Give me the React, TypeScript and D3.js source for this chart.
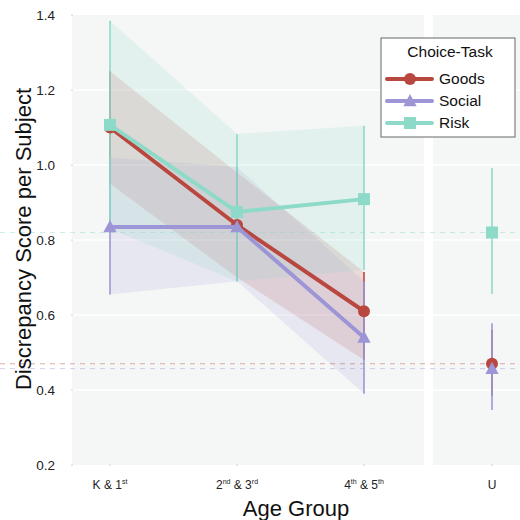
import React from 'react';
import * as d3 from 'd3';

const groups = ['K & 1st', '2nd & 3rd', '4th & 5th'];
const groupSup = [['K & 1', 'st'], ['2', 'nd', ' & 3', 'rd'], ['4', 'th', ' & 5', 'th']];
const seriesNames = ['Goods', 'Social', 'Risk'];
const colors = ['#b8473f', '#9d96d6', '#8edac9'];

// mean, ci low, ci high per age group
const goodsMean = [1.10, 0.84, 0.61];
const goodsLo = [0.95, 0.70, 0.48];
const goodsHi = [1.25, 0.98, 0.715];
const socialMean = [0.835, 0.835, 0.54];
const socialLo = [0.655, 0.69, 0.39];
const socialHi = [1.02, 0.995, 0.69];
const riskMean = [1.107, 0.875, 0.909];
const riskLo = [0.83, 0.69, 0.72];
const riskHi = [1.385, 1.083, 1.105];

// adults (U)
const uMean = [0.47, 0.457, 0.82];
const uLo = [0.385, 0.347, 0.656];
const uHi = [0.56, 0.578, 0.992];

const yTicks = [0.2, 0.4, 0.6, 0.8, 1.0, 1.2, 1.4];

const font = '"Liberation Sans", Arial, Helvetica, sans-serif';

const Marker: React.FC<{ kind: number; x: number; y: number; color: string }> = ({ kind, x, y, color }) => {
  if (kind === 0) return <circle cx={x} cy={y} r={6} fill={color} />;
  if (kind === 1) {
    const s = 7;
    return <path d={`M${x},${y - s} L${x + s * 0.95},${y + s * 0.75} L${x - s * 0.95},${y + s * 0.75} Z`} fill={color} />;
  }
  return <rect x={x - 6} y={y - 6} width={12} height={12} fill={color} />;
};

export default function App() {
  const means = [goodsMean, socialMean, riskMean];
  const los = [goodsLo, socialLo, riskLo];
  const his = [goodsHi, socialHi, riskHi];

  const y = d3.scaleLinear().domain([0.2, 1.4]).range([465, 15]);
  const x = d3.scalePoint<string>().domain(groups).range([110, 364]);
  const xU = d3.scalePoint<string>().domain(['U']).range([492, 492]);

  const leftPanel = { x0: 72, x1: 424 };
  const rightPanel = { x0: 433, x1: 522 };

  const lineGen = d3.line<number>().x((_, i) => x(groups[i]) as number).y(v => y(v));
  const areaGen = (lo: number[], hi: number[]) =>
    d3.area<number>()
      .x((_, i) => x(groups[i]) as number)
      .y0((_, i) => y(lo[i]))
      .y1((_, i) => y(hi[i]))(lo) as string;

  const bandOpacity = [0.16, 0.16, 0.18];

  return (
    <svg width={520} height={520} style={{ position: 'absolute', left: 0, top: 0 }} fontFamily={font}>
      {/* panels */}
      <rect x={leftPanel.x0} y={15} width={leftPanel.x1 - leftPanel.x0} height={450} fill="#f5f7f6" />
      <rect x={rightPanel.x0} y={15} width={rightPanel.x1 - rightPanel.x0} height={450} fill="#f5f7f6" />
      {yTicks.slice(1, -1).map(t => (
        <g key={t}>
          <line x1={leftPanel.x0} x2={leftPanel.x1} y1={y(t)} y2={y(t)} stroke="#fff" strokeWidth={1.5} />
          <line x1={rightPanel.x0} x2={rightPanel.x1} y1={y(t)} y2={y(t)} stroke="#fff" strokeWidth={1.5} />
        </g>
      ))}

      {/* y ticks */}
      {yTicks.map(t => (
        <g key={'yt' + t}>
          <circle cx={72} cy={y(t)} r={0.6} fill="#999" />
          <text x={55} y={y(t)} dy="0.35em" textAnchor="end" fontSize={13.5} fill="#222">{t.toFixed(1)}</text>
        </g>
      ))}

      {/* bands */}
      {seriesNames.map((s, i) => (
        <path key={'band' + s} d={areaGen(los[i], his[i])} fill={colors[i]} opacity={bandOpacity[i]} />
      ))}

      {/* dashed reference lines at U values */}
      {seriesNames.map((s, i) => (
        <line key={'ref' + s} x1={0} x2={520} y1={y(uMean[i])} y2={y(uMean[i])}
          stroke={colors[i]} strokeWidth={1} strokeDasharray="5,5" opacity={0.45} />
      ))}

      {/* error bars */}
      {seriesNames.map((s, i) => (
        <g key={'err' + s}>
          {groups.map((g, j) => (
            <line key={g} x1={x(g)} x2={x(g)} y1={y(los[i][j])} y2={y(his[i][j])} stroke={colors[i]} strokeWidth={1.6} />
          ))}
          <line x1={xU('U')} x2={xU('U')} y1={y(uLo[i])} y2={y(uHi[i])} stroke={colors[i]} strokeWidth={1.6} />
        </g>
      ))}

      {/* lines and markers */}
      {seriesNames.map((s, i) => (
        <g key={'ln' + s}>
          <path d={lineGen(means[i]) as string} fill="none" stroke={colors[i]} strokeWidth={4} />
          {groups.map((g, j) => (
            <Marker key={g} kind={i} x={x(g) as number} y={y(means[i][j])} color={colors[i]} />
          ))}
          <Marker kind={i} x={xU('U') as number} y={y(uMean[i])} color={colors[i]} />
        </g>
      ))}

      {/* x ticks */}
      {groups.map((g, j) => (
        <g key={'xt' + g}>
          <circle cx={x(g)} cy={465} r={0.6} fill="#999" />
          <text x={x(g)} y={489} textAnchor="middle" fontSize={12} fill="#222">
            {groupSup[j].map((p, k) =>
              k % 2 === 1
                ? <tspan key={k} fontSize={7} dy={-5}>{p}</tspan>
                : <tspan key={k} dy={k === 0 ? 0 : 5}>{p}</tspan>
            )}
          </text>
        </g>
      ))}
      <circle cx={xU('U')} cy={465} r={0.6} fill="#999" />
      <text x={xU('U')} y={489} textAnchor="middle" fontSize={12} fill="#222">U</text>

      {/* axis titles */}
      <text x={296} y={516} textAnchor="middle" fontSize={22} fill="#111">Age Group</text>
      <text transform="translate(31,239) rotate(-90)" textAnchor="middle" fontSize={22} fill="#111">Discrepancy Score per Subject</text>

      {/* legend */}
      <g transform="translate(381,38)">
        <rect x={0} y={0} width={134} height={99} fill="#fff" stroke="#666" strokeWidth={1} />
        <text x={69} y={19} textAnchor="middle" fontSize={15.5} fill="#111">Choice-Task</text>
        {seriesNames.map((s, i) => (
          <g key={'lg' + s} transform={`translate(0,${41 + i * 22})`}>
            <line x1={6} x2={51} y1={0} y2={0} stroke={colors[i]} strokeWidth={4} strokeLinecap="round" />
            <Marker kind={i} x={29} y={0} color={colors[i]} />
            <text x={58} y={0} dy="0.35em" fontSize={15.5} fill="#111">{s}</text>
          </g>
        ))}
      </g>
    </svg>
  );
}
